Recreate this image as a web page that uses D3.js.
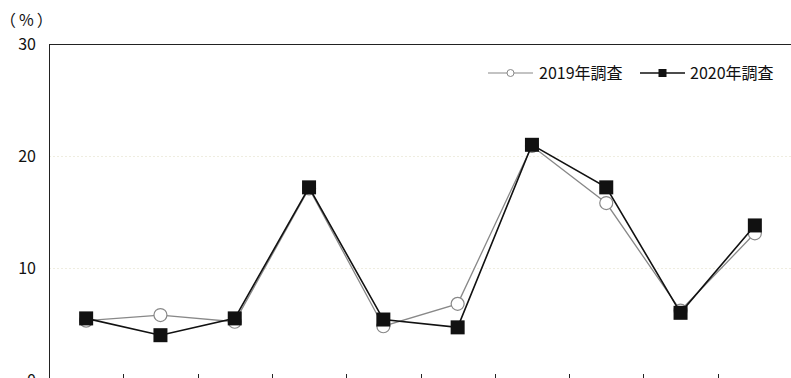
<!DOCTYPE html>
<html><head><meta charset="utf-8">
<script src="https://cdn.jsdelivr.net/npm/d3@7"></script>
<style>body{margin:0;background:#fff}svg{display:block}text{font-family:"Noto Sans CJK JP","Noto Sans",sans-serif;}</style>
</head><body><div id="chart"></div>
<script>
const categories = ["1","2","3","4","5","6","7","8","9","10"];
const series2019 = [5.3, 5.8, 5.2, 17.1, 4.8, 6.8, 20.9, 15.8, 6.2, 13.1];
const series2020 = [5.5, 4.0, 5.5, 17.2, 5.4, 4.7, 21.0, 17.2, 6.0, 13.8];
const yTicks = [0, 10, 20, 30];
const legendLabels = ["2019年調査", "2020年調査"];

(function () {
const W = 791, H = 378;
const mLeft = 49, mRight = 792, mTop = 44, mBottom = 380;
const svg = d3.select("#chart").append("svg").attr("width", W).attr("height", H);

const x = d3.scaleBand().domain(categories).range([mLeft, mRight]).paddingInner(0).paddingOuter(0);
const y = d3.scaleLinear().domain([0, 30]).range([mBottom, mTop]);

// gridlines
svg.append("g").selectAll("line").data(yTicks.filter(t => t > 0 && t < 30)).join("line")
  .attr("x1", mLeft).attr("x2", mRight).attr("y1", d => y(d) + 0.5).attr("y2", d => y(d) + 0.5)
  .attr("stroke", "#efede0").attr("stroke-width", 1).attr("stroke-dasharray", "2,2");

// frame: top and left
svg.append("line").attr("x1", mLeft).attr("x2", mRight).attr("y1", y(30) + 0.5).attr("y2", y(30) + 0.5).attr("stroke", "#222").attr("stroke-width", 1);
svg.append("line").attr("x1", mLeft + 0.5).attr("x2", mLeft + 0.5).attr("y1", y(30)).attr("y2", mBottom).attr("stroke", "#222").attr("stroke-width", 1);
svg.append("line").attr("x1", mLeft).attr("x2", mRight).attr("y1", mBottom).attr("y2", mBottom).attr("stroke", "#222");

// x ticks at category boundaries
const bounds = categories.slice(1).map(c => x(c));
svg.append("g").selectAll("line").data(bounds).join("line")
  .attr("x1", d => Math.round(d) + 0.5).attr("x2", d => Math.round(d) + 0.5)
  .attr("y1", mBottom - 6).attr("y2", mBottom + 6).attr("stroke", "#222");

// y labels
svg.append("g").selectAll("text").data(yTicks).join("text")
  .attr("x", 36).attr("y", d => y(d)).attr("dy", "0.36em")
  .attr("text-anchor", "end").attr("font-size", 16).attr("fill", "#111").text(d => d);

svg.append("text").attr("x", 0).attr("y", 20).attr("dy", "0.36em").attr("font-size", 16)
  .attr("letter-spacing", 3).attr("fill", "#111").text("（%）");

const cx = c => x(c) + x.bandwidth() / 2;
const line = d3.line().x((d, i) => cx(categories[i])).y(d => y(d));

// 2019 series
svg.append("path").datum(series2019).attr("d", line).attr("fill", "none").attr("stroke", "#888").attr("stroke-width", 1.3);
svg.append("g").selectAll("circle").data(series2019).join("circle")
  .attr("cx", (d, i) => cx(categories[i])).attr("cy", d => y(d)).attr("r", 6.5)
  .attr("fill", "#fff").attr("stroke", "#888").attr("stroke-width", 1.2);

// 2020 series
svg.append("path").datum(series2020).attr("d", line).attr("fill", "none").attr("stroke", "#111").attr("stroke-width", 1.6);
const s = 14;
svg.append("g").selectAll("rect").data(series2020).join("rect")
  .attr("x", (d, i) => cx(categories[i]) - s / 2).attr("y", d => y(d) - s / 2)
  .attr("width", s).attr("height", s).attr("fill", "#111");

// legend
const ly = 73;
const lg = svg.append("g");
lg.append("line").attr("x1", 488).attr("x2", 533).attr("y1", ly).attr("y2", ly).attr("stroke", "#888").attr("stroke-width", 1.2);
lg.append("circle").attr("cx", 510.5).attr("cy", ly).attr("r", 3.5).attr("fill", "#fff").attr("stroke", "#888");
lg.append("text").attr("x", 539).attr("y", ly).attr("dy", "0.36em").attr("font-size", 16).attr("fill", "#111").text(legendLabels[0]);
lg.append("line").attr("x1", 640).attr("x2", 685).attr("y1", ly).attr("y2", ly).attr("stroke", "#111").attr("stroke-width", 1.5);
lg.append("rect").attr("x", 658.5).attr("y", ly - 4).attr("width", 8).attr("height", 8).attr("fill", "#111");
lg.append("text").attr("x", 690).attr("y", ly).attr("dy", "0.36em").attr("font-size", 16).attr("fill", "#111").text(legendLabels[1]);
})();
</script></body></html>
